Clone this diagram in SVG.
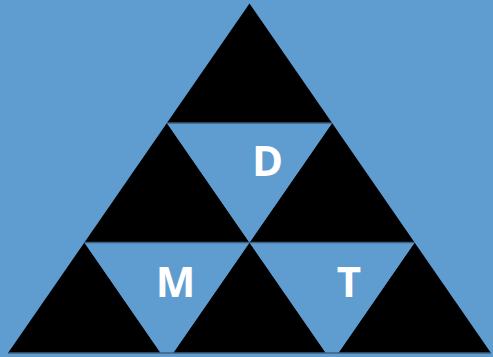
<svg xmlns="http://www.w3.org/2000/svg" width="493" height="357" viewBox="0 0 493 357">
<style>
.bk{fill:#000000}
.bl{fill:#5F9DD1}
.ln{stroke:#3E5F80;stroke-width:1.5;fill:none}
.lb{font-family:"Open Sans","Liberation Sans",sans-serif;font-weight:bold;font-size:42px;fill:#ffffff;text-anchor:middle}
</style>
<defs>
<clipPath id="clip"><rect x="0" y="0" width="493" height="353"/></clipPath>
</defs>
<rect x="0" y="0" width="493" height="357" fill="#5F9DD1"/>
<g clip-path="url(#clip)">
<g id="t-top"><polygon class="bk" points="249.5,3.5 166.9,123 332.1,123"/></g>
<g id="t-mid-left"><polygon class="bk" points="166.9,123 84.4,242.5 249.5,242.5"/></g>
<g id="t-mid-right"><polygon class="bk" points="332.1,123 249.5,242.5 414.6,242.5"/></g>
<g id="t-bot-left"><polygon class="bk" points="84.4,242.5 1.8,362 166.9,362"/></g>
<g id="t-bot-mid"><polygon class="bk" points="249.5,242.5 166.9,362 332.1,362"/></g>
<g id="t-bot-right"><polygon class="bk" points="414.6,242.5 332.1,362 497.2,362"/></g>
<g id="D"><polygon class="bl" points="166.9,123 332.1,123 249.5,242.5"/><text class="lb" x="267.5" y="176">D</text></g>
<g id="M"><polygon class="bl" points="84.4,242.5 249.5,242.5 166.9,362"/><text class="lb" x="175.5" y="297">M</text></g>
<g id="T"><polygon class="bl" points="249.5,242.5 414.6,242.5 332.1,362"/><text class="lb" x="349" y="297">T</text></g>
</g>
<g id="connectors">
<line class="ln" x1="166.9" y1="123" x2="332.1" y2="123"/>
<line class="ln" x1="84.4" y1="242.5" x2="414.6" y2="242.5"/>
<line class="ln" x1="8" y1="353" x2="491" y2="353"/>
</g>
</svg>
